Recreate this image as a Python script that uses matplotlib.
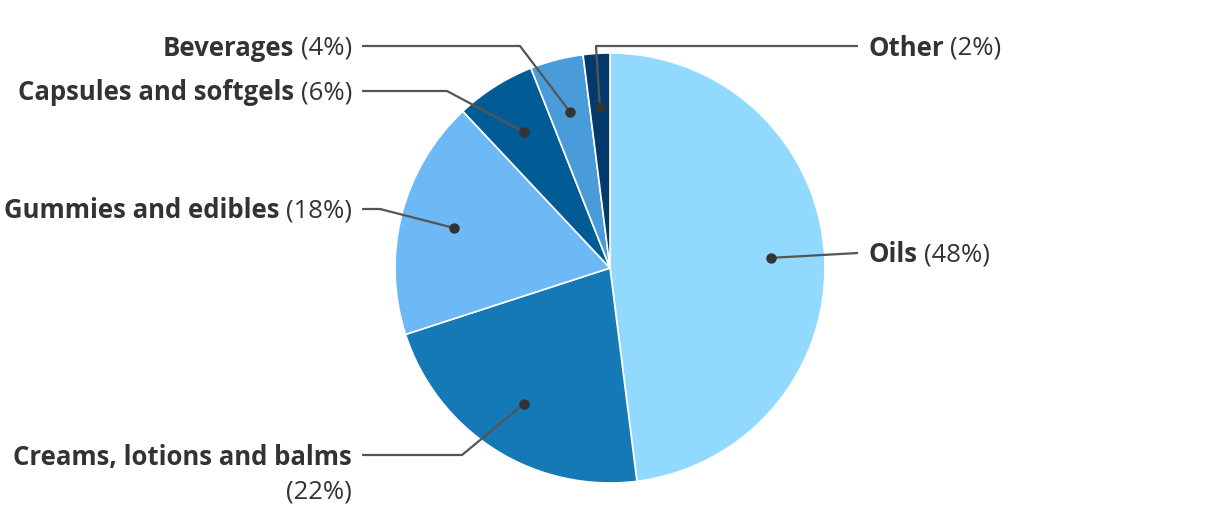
import numpy as np
from matplotlib import pyplot as plt

# Données
categories = ["Oils", "Creams, lotions and balms", "Gummies and edibles",
              "Capsules and softgels", "Beverages", "Other"]
shares = [48, 22, 18, 6, 4, 2]
colors = ["#91d9ff", "#1479b5", "#6cb9f6", "#015b95", "#4a9bd9", "#03396d"]

# Mise en page (pixels écran, origine en haut à gauche)
W, H = 1220, 516
CENTER = (610, 268)
RADIUS = 215
TEXT_COLOR = "#333333"
LINE_COLOR = "#555555"
FONT = ["Open Sans", "DejaVu Sans"]
FS = 18.5
TEXT_DY = 2

# côté, points de coude du trait, y du texte, retour à la ligne du pourcentage
label_layout = {
    "Oils": ("right", [], 253, False),
    "Creams, lotions and balms": ("left", [(462, 455)], 455, True),
    "Gummies and edibles": ("left", [(380, 209)], 209, False),
    "Capsules and softgels": ("left", [(447, 91)], 91, False),
    "Beverages": ("left", [(520, 46)], 46, False),
    "Other": ("right", [(596, 46)], 46, False),
}
LEFT_LINE_END, LEFT_TEXT_X = 362, 352
RIGHT_LINE_END, RIGHT_TEXT_X = 858, 868


def py(y):
    return H - y


fig = plt.figure(figsize=(W / 100, H / 100), dpi=100)
ax = fig.add_axes([0, 0, 1, 1])

wedges, _ = ax.pie(shares, colors=colors, startangle=90, counterclock=False,
                   center=(CENTER[0], py(CENTER[1])), radius=RADIUS,
                   wedgeprops=dict(edgecolor="white", linewidth=1.2))
ax.set_xlim(0, W)
ax.set_ylim(0, H)
ax.set_aspect("auto")
ax.axis("off")

renderer = fig.canvas.get_renderer()


def text_width(txt, weight):
    t = ax.text(0, 0, txt, fontsize=FS, fontweight=weight, family=FONT)
    w = t.get_window_extent(renderer).width
    t.remove()
    return w


space = text_width("a a", "normal") - text_width("aa", "normal")

for wedge, name, share in zip(wedges, categories, shares):
    side, elbows, ty, wrap = label_layout[name]
    mid = np.deg2rad((wedge.theta1 + wedge.theta2) / 2)
    dx = CENTER[0] + 0.75 * RADIUS * np.cos(mid)
    dy = CENTER[1] - 0.75 * RADIUS * np.sin(mid)
    end_x = LEFT_LINE_END if side == "left" else RIGHT_LINE_END
    pts = [(dx, dy)] + elbows + [(end_x, ty)]
    xs = [p[0] for p in pts]
    ys = [py(p[1]) for p in pts]
    ax.plot(xs, ys, color=LINE_COLOR, lw=1.6, solid_capstyle="butt", zorder=3)
    ax.plot(dx, py(dy), "o", color=TEXT_COLOR, ms=6.5, zorder=4)

    pct = f"({share}%)"
    tyy = py(ty + TEXT_DY)
    if side == "right":
        ax.text(RIGHT_TEXT_X, tyy, name, fontsize=FS, fontweight="bold", family=FONT,
                color=TEXT_COLOR, ha="left", va="center")
        wname = text_width(name, "bold")
        ax.text(RIGHT_TEXT_X + wname + space, tyy, pct, fontsize=FS, family=FONT,
                color=TEXT_COLOR, ha="left", va="center")
    elif wrap:
        ax.text(LEFT_TEXT_X, tyy, name, fontsize=FS, fontweight="bold", family=FONT,
                color=TEXT_COLOR, ha="right", va="center")
        ax.text(LEFT_TEXT_X, py(ty + 35 + TEXT_DY), pct, fontsize=FS, family=FONT,
                color=TEXT_COLOR, ha="right", va="center")
    else:
        ax.text(LEFT_TEXT_X, tyy, pct, fontsize=FS, family=FONT,
                color=TEXT_COLOR, ha="right", va="center")
        wpct = text_width(pct, "normal")
        ax.text(LEFT_TEXT_X - wpct - space, tyy, name, fontsize=FS, fontweight="bold",
                family=FONT, color=TEXT_COLOR, ha="right", va="center")

fig.savefig("out.png", dpi=100, facecolor="white")
